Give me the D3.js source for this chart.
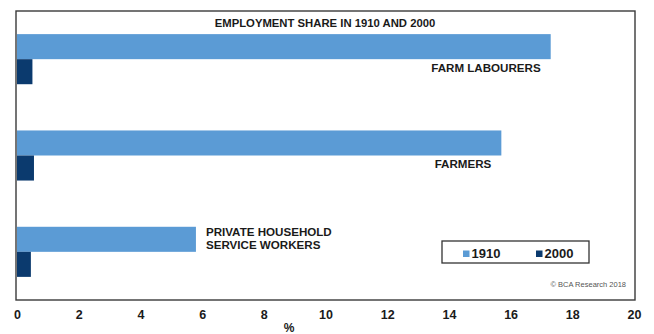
<!DOCTYPE html>
<html>
<head>
<meta charset="utf-8">
<script src="https://cdn.jsdelivr.net/npm/d3@7"></script>
<style>
  body { margin: 0; background: #fff; }
  text { font-family: "Liberation Sans", Arial, sans-serif; }
</style>
</head>
<body>
<div id="chart"></div>
<script>
// employment share, % of total
const categories = ["FARM LABOURERS", "FARMERS", "PRIVATE HOUSEHOLD SERVICE WORKERS"];
const labelLines = [["FARM LABOURERS"], ["FARMERS"], ["PRIVATE HOUSEHOLD", "SERVICE WORKERS"]];
const years = ["1910", "2000"];
const values1910 = [17.3, 15.7, 5.8];
const values2000 = [0.5, 0.55, 0.45];
const xTicks = [0, 2, 4, 6, 8, 10, 12, 14, 16, 18, 20];

const color1910 = "#5b9bd5";
const color2000 = "#0b3a6e";

const width = 654, height = 334;
const frame = { left: 16, top: 11, right: 635, bottom: 300 };

const svg = d3.select("#chart").append("svg")
  .attr("width", width)
  .attr("height", height);

const x = d3.scaleLinear().domain([0, 20]).range([17, 634]);

const y0 = d3.scaleBand()
  .domain(categories)
  .range([frame.top, frame.bottom])
  .paddingInner(0.48)
  .paddingOuter(0.24);

const y1 = d3.scaleBand()
  .domain(years)
  .range([0, y0.bandwidth()]);

const colors = d3.scaleOrdinal().domain(years).range([color1910, color2000]);

const rows = categories.map((c, i) => ({
  cat: c,
  lines: labelLines[i],
  bars: [
    { year: "1910", value: values1910[i] },
    { year: "2000", value: values2000[i] }
  ]
}));

// plot frame
svg.append("rect")
  .attr("x", frame.left)
  .attr("y", frame.top)
  .attr("width", frame.right - frame.left)
  .attr("height", frame.bottom - frame.top)
  .attr("fill", "#fff")
  .attr("stroke", "#3a3a3a")
  .attr("stroke-width", 1.4);

// title
svg.append("text")
  .attr("x", 325)
  .attr("y", 27)
  .attr("text-anchor", "middle")
  .attr("font-size", "11.3px")
  .attr("font-weight", "bold")
  .attr("fill", "#1a1a1a")
  .text("EMPLOYMENT SHARE IN 1910 AND 2000");

const groups = svg.selectAll("g.row")
  .data(rows)
  .enter()
  .append("g")
  .attr("class", "row")
  .attr("transform", d => `translate(0,${y0(d.cat)})`);

groups.selectAll("rect")
  .data(d => d.bars)
  .enter()
  .append("rect")
  .attr("x", x(0))
  .attr("y", d => y1(d.year))
  .attr("width", d => x(d.value) - x(0))
  .attr("height", y1.bandwidth())
  .attr("fill", d => colors(d.year));

// category labels: long bars get the label tucked under the bar end,
// short bars get it to the right
groups.each(function(d) {
  const end = x(d.bars[0].value);
  const g = d3.select(this);
  const long = d.bars[0].value > 10;
  const t = g.append("text")
    .attr("font-size", "11.6px")
    .attr("font-weight", "bold")
    .attr("fill", "#1a1a1a")
    .attr("text-anchor", long ? "end" : "start");
  t.selectAll("tspan")
    .data(d.lines)
    .enter()
    .append("tspan")
    .attr("x", long ? end - 10 : end + 10)
    .attr("y", (l, i) => long ? y1("2000") + 13 : 9 + i * 13)
    .text(l => l);
});

// x axis
const axis = svg.append("g")
  .attr("transform", `translate(0,${frame.bottom})`)
  .call(d3.axisBottom(x).tickValues(xTicks).tickSize(0).tickPadding(10));
axis.select(".domain").remove();
axis.selectAll("text")
  .attr("font-family", "Liberation Sans, Arial, sans-serif")
  .attr("font-size", "12.5px")
  .attr("font-weight", "bold")
  .attr("fill", "#1a1a1a");

svg.append("text")
  .attr("x", 289)
  .attr("y", 332)
  .attr("text-anchor", "middle")
  .attr("font-size", "12px")
  .attr("font-weight", "bold")
  .attr("fill", "#1a1a1a")
  .text("%");

// legend
const legend = svg.append("g");
legend.append("rect")
  .attr("x", 442)
  .attr("y", 241)
  .attr("width", 147)
  .attr("height", 22)
  .attr("fill", "#fff")
  .attr("stroke", "#333")
  .attr("stroke-width", 1.3);

const legendX = [463, 536];
const items = legend.selectAll("g.item")
  .data(years)
  .enter()
  .append("g")
  .attr("class", "item")
  .attr("transform", (d, i) => `translate(${legendX[i]},0)`);
items.append("rect")
  .attr("x", 0)
  .attr("y", 250.5)
  .attr("width", 6.5)
  .attr("height", 6.5)
  .attr("fill", d => colors(d));
items.append("text")
  .attr("x", 8.5)
  .attr("y", 257.5)
  .attr("font-size", "13px")
  .attr("font-weight", "bold")
  .attr("fill", "#1a1a1a")
  .text(d => d);

svg.append("text")
  .attr("x", 626)
  .attr("y", 287)
  .attr("text-anchor", "end")
  .attr("font-size", "7.5px")
  .attr("fill", "#555")
  .text("\u00a9 BCA Research 2018");
</script>
</body>
</html>
